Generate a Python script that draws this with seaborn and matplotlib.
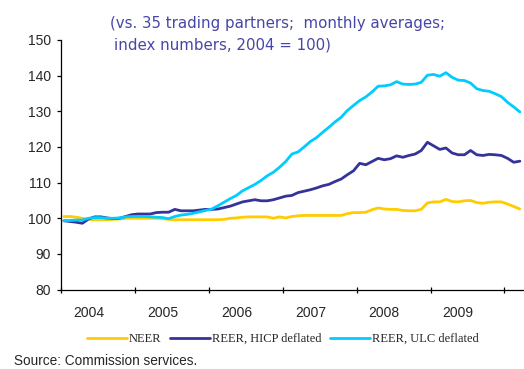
import numpy as np
import pandas as pd
import matplotlib
matplotlib.use("Agg")
import matplotlib.pyplot as plt
import seaborn as sns

# Monthly effective exchange rate indices, Jan 2004 - Mar 2010 (2004 = 100)
years = ["2004", "2005", "2006", "2007", "2008", "2009"]

neer = [100.5, 100.5, 100.3, 100.0, 99.7, 99.6, 99.6, 99.6, 99.7, 99.8, 100.0, 100.0,
        100.0, 100.0, 100.0, 100.0, 99.9, 99.7, 99.6, 99.6, 99.6, 99.6, 99.6, 99.6,
        99.6, 99.6, 99.7, 100.0, 100.1, 100.3, 100.4, 100.4, 100.4, 100.4, 100.0, 100.4,
        100.1, 100.5, 100.7, 100.8, 100.8, 100.8, 100.8, 100.8, 100.8, 100.8, 101.3, 101.6,
        101.6, 101.7, 102.4, 102.9, 102.6, 102.5, 102.5, 102.2, 102.1, 102.1, 102.5, 104.3,
        104.6, 104.6, 105.3, 104.7, 104.6, 104.9, 105.0, 104.4, 104.2, 104.5, 104.6, 104.6,
        104.0, 103.3, 102.6]

reer_hicp = [99.3, 99.1, 98.9, 98.6, 99.8, 100.4, 100.4, 100.1, 99.9, 100.0, 100.5, 101.0,
             101.2, 101.2, 101.2, 101.6, 101.7, 101.7, 102.5, 102.1, 102.1, 102.1, 102.3, 102.5,
             102.5, 102.6, 103.0, 103.4, 104.0, 104.6, 104.9, 105.2, 104.9, 104.9, 105.2, 105.7,
             106.2, 106.4, 107.2, 107.6, 108.0, 108.5, 109.1, 109.5, 110.3, 111.0, 112.2, 113.3,
             115.4, 115.0, 115.9, 116.8, 116.4, 116.7, 117.5, 117.1, 117.6, 118.0, 119.0, 121.3,
             120.3, 119.3, 119.7, 118.3, 117.8, 117.8, 119.0, 117.8, 117.6, 117.9, 117.8, 117.6,
             116.8, 115.7, 116.0]

reer_ulc = [99.3, 99.4, 99.5, 99.5, 100.0, 100.2, 100.2, 100.0, 100.0, 100.1, 100.4, 100.5,
            100.5, 100.5, 100.4, 100.3, 100.2, 99.9, 100.5, 100.9, 101.1, 101.4, 101.8, 102.2,
            102.6, 103.5, 104.5, 105.5, 106.4, 107.7, 108.6, 109.5, 110.6, 111.9, 112.9, 114.3,
            115.9, 118.0, 118.6, 120.0, 121.5, 122.6, 124.1, 125.5, 127.0, 128.3, 130.2, 131.6,
            133.0, 134.0, 135.4, 137.0, 137.1, 137.4, 138.3, 137.6, 137.5, 137.6, 138.1, 140.1,
            140.3, 139.8, 140.8, 139.5, 138.7, 138.6, 137.9, 136.3, 135.8, 135.6, 134.9, 134.1,
            132.5, 131.2, 129.8]

series_names = ["NEER", "REER, HICP deflated", "REER, ULC deflated"]
colors = ["#FFCC00", "#333399", "#00CCFF"]

months = np.arange(len(neer))
df = pd.concat([
    pd.DataFrame({"month": months, "value": vals, "series": name})
    for name, vals in zip(series_names, [neer, reer_hicp, reer_ulc])
])

sns.set_style("ticks")
plt.rcParams["font.family"] = ["Liberation Sans", "DejaVu Sans"]

fig = plt.figure(figsize=(5.24, 3.69), dpi=100)
ax = fig.add_axes([0.116, 0.215, 0.882, 0.677])

sns.lineplot(data=df, x="month", y="value", hue="series", palette=colors,
             linewidth=2.0, ax=ax, legend=True)

ax.set_xlim(-0.5, len(neer) - 0.5)
ax.set_ylim(80, 150)
ax.set_yticks(np.arange(80, 151, 10))

# Year boundaries as ticks, year names placed inside each year
ax.set_xticks(np.arange(-0.5, len(neer), 12))
ax.set_xticklabels([])
ax.set_xticks(np.arange(4, 4 + 12 * len(years), 12), minor=True)
ax.set_xticklabels(years, minor=True)
ax.tick_params(axis="x", which="major", direction="inout", length=5, width=0.9, color="black")
ax.tick_params(axis="x", which="minor", length=0, pad=12, labelsize=10)
ax.tick_params(axis="y", direction="out", length=3, width=0.9, pad=4, labelsize=10, color="black")

ax.set_xlabel("")
ax.set_ylabel("")
sns.despine(ax=ax)
for side in ["left", "bottom"]:
    ax.spines[side].set_color("black")
    ax.spines[side].set_linewidth(0.9)

ax.legend_.remove()
handles, labels = ax.get_legend_handles_labels()
fig.legend(handles, labels, loc="center", bbox_to_anchor=(0.54, 0.081), ncol=3,
           frameon=False, handlelength=3.2, handletextpad=0.15, columnspacing=0.7,
           prop={"family": "Liberation Serif", "size": 9})

title_font = {"family": ["DejaVu Sans"], "color": "#4646A8", "fontsize": 10.8}
fig.text(0.210, 0.937, "(vs. 35 trading partners;  monthly averages;",
         ha="left", va="center", **title_font)
fig.text(0.218, 0.878, "index numbers, 2004 = 100)",
         ha="left", va="center", **title_font)
fig.text(0.027, 0.022, "Source: Commission services.", fontsize=9.8, ha="left", va="center")

fig.savefig("out.png", dpi=100)
